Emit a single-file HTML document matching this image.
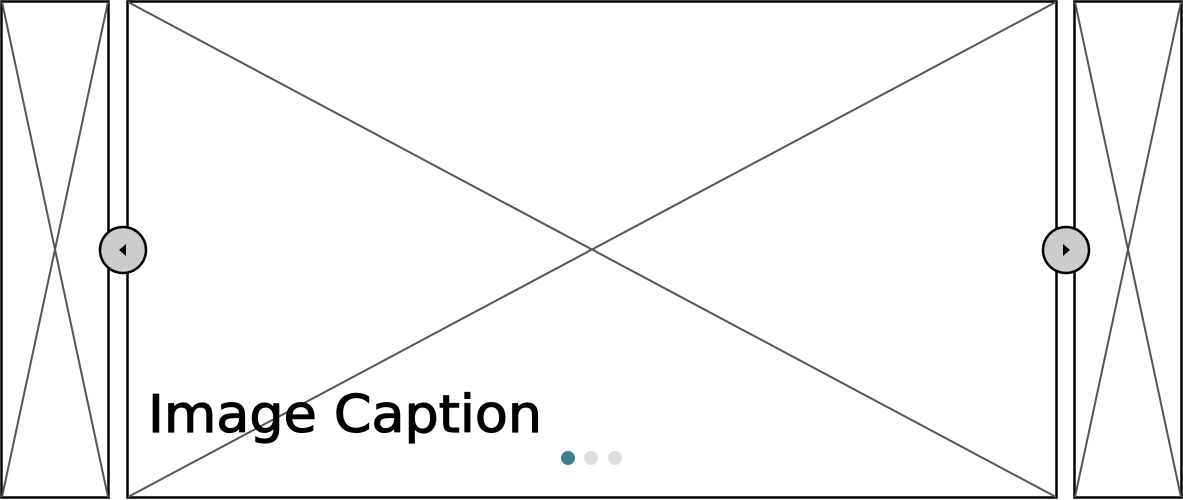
<!DOCTYPE html>
<html><head><meta charset="utf-8"><style>
html,body{margin:0;padding:0;background:#fff;width:1183px;height:500px;overflow:hidden}
svg{display:block}
text{font-family:"Comic Sans MS","DejaVu Sans","Liberation Sans",sans-serif}
</style></head><body>
<svg width="1183" height="500" viewBox="0 0 1183 500">
  <g>
    <rect x="1.5" y="1.5" width="107" height="496" fill="#fff" stroke="#000" stroke-width="2.5"/>
    <line x1="2" y1="2" x2="108" y2="497" stroke="#555" stroke-width="2"/>
    <line x1="108" y1="2" x2="2" y2="497" stroke="#555" stroke-width="2"/>
  </g>
  <g>
    <rect x="1074.5" y="1.5" width="107" height="496" fill="#fff" stroke="#000" stroke-width="2.5"/>
    <line x1="1075" y1="2" x2="1181" y2="497" stroke="#555" stroke-width="2"/>
    <line x1="1181" y1="2" x2="1075" y2="497" stroke="#555" stroke-width="2"/>
  </g>
  <g>
    <rect x="127.5" y="1.5" width="929" height="496" fill="#fff" stroke="#000" stroke-width="2.5"/>
    <line x1="128" y1="2" x2="1056" y2="497" stroke="#555" stroke-width="2"/>
    <line x1="1056" y1="2" x2="128" y2="497" stroke="#555" stroke-width="2"/>
  </g>
  <g>
    <circle cx="123" cy="250" r="23" fill="#ccc" stroke="#000" stroke-width="2.5"/>
    <polygon points="119,250 126,244 126,256" fill="#000"/>
  </g>
  <g>
    <circle cx="1066" cy="250" r="23" fill="#ccc" stroke="#000" stroke-width="2.5"/>
    <polygon points="1070,250 1063,244 1063,256" fill="#000"/>
  </g>
  <text x="148" y="432" font-size="52" fill="#000" stroke="#000" stroke-width="1.2" textLength="394" lengthAdjust="spacingAndGlyphs">Image Caption</text>
  <circle cx="568" cy="458" r="7" fill="#3f7f8f"/>
  <circle cx="591" cy="458" r="7" fill="#ddd"/>
  <circle cx="615" cy="458" r="7" fill="#ddd"/>
</svg>
</body></html>
